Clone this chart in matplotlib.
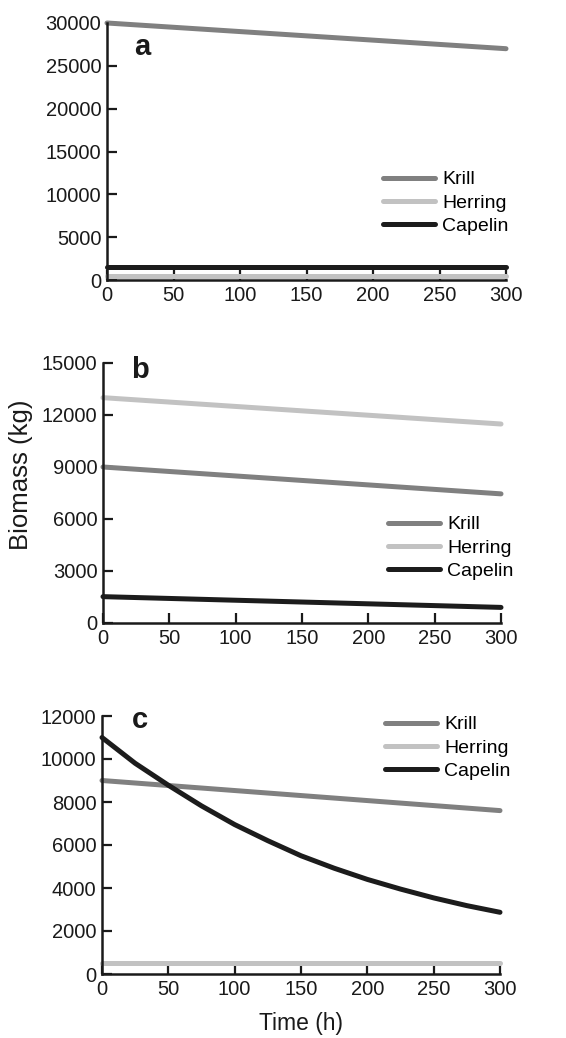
import numpy as np
import matplotlib.pyplot as plt

plt.rcParams['font.family'] = ['Liberation Sans', 'DejaVu Sans']

# temps (h)
t_lin = [0, 300]
t_cap = [0, 25, 50, 75, 100, 125, 150, 175, 200, 225, 250, 275, 300]

# panneau a
krill_a = [30000, 27000]
herring_a = [500, 500]
capelin_a = [1500, 1500]

# panneau b
krill_b = [9000, 7450]
herring_b = [13000, 11480]
capelin_b = [1520, 900]

# panneau c
krill_c = [9000, 7600]
herring_c = [500, 500]
capelin_c = [11000, 9800, 8780, 7820, 6950, 6200, 5500, 4920, 4400, 3950, 3540, 3180, 2870]

noms = ['Krill', 'Herring', 'Capelin']
couleurs = ['#808080', '#c2c2c2', '#1c1c1c']

W, H = 566, 1038
fig = plt.figure(figsize=(W / 100, H / 100), dpi=100)


def px_axes(x0, x1, y0, y1):
    return fig.add_axes([x0 / W, 1 - y1 / H, (x1 - x0) / W, (y1 - y0) / H])


def panneau(ax, series, ymax, yticks, lettre, lettre_xy, leg_xy):
    for (tx, y), nom, c in zip(series, noms, couleurs):
        ax.plot(tx, y, color=c, lw=3.6, label=nom, solid_capstyle='round', clip_on=False)
    ax.set_xlim(0, 300)
    ax.set_ylim(0, ymax)
    ax.set_xticks(range(0, 301, 50))
    ax.set_yticks(yticks)
    for s in ['top', 'right']:
        ax.spines[s].set_visible(False)
    for s in ['left', 'bottom']:
        ax.spines[s].set_linewidth(1.8)
        ax.spines[s].set_color('#1a1a1a')
    ax.tick_params(direction='in', length=7, width=1.6, labelsize=14.5, colors='#1a1a1a')
    ax.tick_params(axis='y', pad=4)
    ax.tick_params(axis='x', pad=4)
    # lettre du panneau
    fig.text(lettre_xy[0] / W, 1 - lettre_xy[1] / H, lettre, fontsize=21, fontweight='bold',
             va='baseline', ha='left', color='#1a1a1a')
    ax.legend(loc='center left', bbox_to_anchor=(leg_xy[0] / W, 1 - leg_xy[1] / H),
              bbox_transform=fig.transFigure, frameon=False, fontsize=14,
              handlelength=2.7, handletextpad=0.35, labelspacing=0.3, borderpad=0)


ax_a = px_axes(107, 506, 23, 280)
panneau(ax_a, [(t_lin, krill_a), (t_lin, herring_a), (t_lin, capelin_a)],
        30000, range(0, 30001, 5000), 'a', (134, 55), (373, 203))

ax_b = px_axes(103, 501, 363, 623)
panneau(ax_b, [(t_lin, krill_b), (t_lin, herring_b), (t_lin, capelin_b)],
        15000, range(0, 15001, 3000), 'b', (131, 378), (378, 548))
ax_b.set_ylabel('Biomass (kg)', fontsize=18.5, color='#1a1a1a')
ax_b.yaxis.set_label_coords(-0.176, 0.569)

ax_c = px_axes(102, 500, 716, 974)
panneau(ax_c, [(t_lin, krill_c), (t_lin, herring_c), (t_cap, capelin_c)],
        12000, range(0, 12001, 2000), 'c', (132, 728), (375, 748))
ax_c.set_xlabel('Time (h)', fontsize=16.5, color='#1a1a1a', labelpad=10)

fig.savefig('out.png', dpi=100)
